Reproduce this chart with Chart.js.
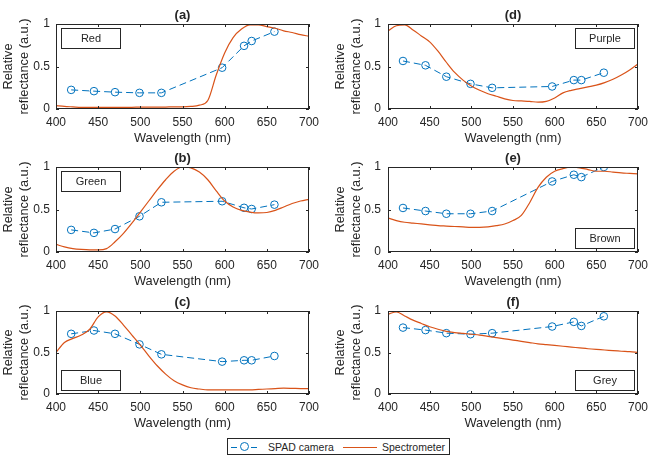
<!DOCTYPE html>
<html>
<head>
<meta charset="utf-8">
<script src="https://cdn.jsdelivr.net/npm/chart.js@4.4.0/dist/chart.umd.min.js"></script>
<style>
  body { margin: 0; background: #fff; }
  #page { position: relative; width: 654px; height: 458px; overflow: hidden; background: #fff;
          font-family: "Liberation Sans", Arial, sans-serif; color: #262626; }
  .panel { position: absolute; }
  #legend { position: absolute; left: 227px; top: 438px; width: 221px; height: 15px;
            border: 1px solid #262626; background: #fff; font-size: 10.5px; }
  #legend span { position: absolute; }
  .dash { height: 0; border-top: 1px solid #0072BD; top: 8px; }
  .ring { width: 7px; height: 7px; border: 1px solid #0072BD; border-radius: 50%; top: 3px; }
  .txt { top: 1px; line-height: 14px; }
</style>
</head>
<body>
<div id="page">
  <div class="panel" style="left:0;top:0"><canvas id="cA"></canvas></div>
  <div class="panel" style="left:327px;top:0"><canvas id="cD"></canvas></div>
  <div class="panel" style="left:0;top:143px"><canvas id="cB"></canvas></div>
  <div class="panel" style="left:327px;top:143px"><canvas id="cE"></canvas></div>
  <div class="panel" style="left:0;top:286px"><canvas id="cC"></canvas></div>
  <div class="panel" style="left:327px;top:286px"><canvas id="cF"></canvas></div>
  <div id="legend">
    <span class="dash" style="left:3px;width:6px"></span>
    <span class="ring" style="left:12px"></span>
    <span class="dash" style="left:23px;width:6px"></span>
    <span class="txt" style="left:40px">SPAD camera</span>
    <span class="dash" style="left:115px;width:34px;border-top-color:#D95319"></span>
    <span class="txt" style="left:154px">Spectrometer</span>
  </div>
</div>
<script>
// SPAD camera filter wavelengths (nm)
const spadWavelengths = [418, 445, 470, 499, 525, 597, 623, 632, 659];
const spadRed    = [0.225, 0.21, 0.198, 0.19, 0.19, 0.486, 0.743, 0.80, 0.91];
const spadGreen  = [0.26, 0.225, 0.27, 0.42, 0.585, 0.597, 0.52, 0.506, 0.557];
const spadBlue   = [0.725, 0.765, 0.725, 0.598, 0.478, 0.39, 0.406, 0.406, 0.458];
const spadPurple = [0.565, 0.514, 0.38, 0.296, 0.249, 0.265, 0.34, 0.34, 0.427];
const spadBrown  = [0.518, 0.482, 0.45, 0.45, 0.482, 0.83, 0.909, 0.881, 1.0];
const spadGrey   = [0.80, 0.77, 0.733, 0.72, 0.733, 0.813, 0.869, 0.82, 0.936];

// spectrometer readings, every 10 nm
const specWavelengths = [400, 410, 420, 430, 440, 450, 460, 470, 480, 490, 500,
  510, 520, 530, 540, 550, 560, 570, 580, 590, 600,
  610, 620, 630, 640, 650, 660, 670, 680, 690, 700];
const specRed = [0.04, 0.03, 0.025, 0.02, 0.02, 0.02, 0.02, 0.02, 0.02, 0.02, 0.022,
  0.022, 0.022, 0.023, 0.025, 0.025, 0.03, 0.045, 0.10, 0.40, 0.66,
  0.84, 0.94, 0.99, 0.99, 0.97, 0.95, 0.92, 0.90, 0.875, 0.855];
const specGreen = [0.09, 0.06, 0.04, 0.03, 0.025, 0.025, 0.04, 0.12, 0.22, 0.34, 0.47,
  0.60, 0.73, 0.85, 0.95, 1.0, 0.99, 0.94, 0.85, 0.72, 0.60,
  0.53, 0.49, 0.47, 0.46, 0.465, 0.49, 0.53, 0.57, 0.60, 0.62];
const specBlue = [0.50, 0.62, 0.67, 0.71, 0.78, 0.93, 0.99, 0.94, 0.83, 0.71, 0.59,
  0.46, 0.34, 0.24, 0.16, 0.11, 0.075, 0.06, 0.05, 0.05, 0.05,
  0.05, 0.05, 0.05, 0.055, 0.06, 0.065, 0.07, 0.068, 0.065, 0.065];
const specPurple = [0.92, 0.98, 0.99, 0.93, 0.86, 0.79, 0.68, 0.55, 0.43, 0.34, 0.27,
  0.22, 0.18, 0.15, 0.12, 0.10, 0.095, 0.09, 0.08, 0.09, 0.13,
  0.19, 0.22, 0.24, 0.26, 0.28, 0.31, 0.35, 0.40, 0.46, 0.53];
const specBrown = [0.40, 0.37, 0.35, 0.34, 0.33, 0.32, 0.31, 0.305, 0.30, 0.295, 0.29,
  0.29, 0.295, 0.31, 0.33, 0.37, 0.43, 0.58, 0.76, 0.88, 0.95,
  0.98, 1.0, 0.99, 0.97, 0.95, 0.95, 0.94, 0.93, 0.925, 0.92];
const specGrey = [0.96, 0.99, 0.94, 0.89, 0.85, 0.81, 0.78, 0.755, 0.74, 0.73, 0.72,
  0.71, 0.695, 0.68, 0.665, 0.65, 0.635, 0.62, 0.605, 0.595, 0.585,
  0.575, 0.565, 0.555, 0.545, 0.537, 0.53, 0.522, 0.515, 0.51, 0.50];

const xTickStep = 50;
const yTickStep = 0.5;

const INK = '#262626';
const BLUE = '#0072BD';
const ORANGE = '#D95319';
Chart.defaults.font.family = "'Liberation Sans', Arial, sans-serif";
Chart.defaults.color = INK;

// box, inward ticks, panel title and colour label
const framePlugin = {
  id: 'frame',
  afterDatasetsDraw(chart, args, opts) {
    const { ctx, chartArea: a, scales: { x, y } } = chart;
    ctx.save();
    ctx.strokeStyle = INK;
    ctx.lineWidth = 1;
    ctx.strokeRect(a.left + 0.5, a.top + 0.5, a.width - 1, a.height - 1);
    ctx.beginPath();
    x.ticks.forEach(t => {
      const px = Math.round(x.getPixelForValue(t.value)) + 0.5;
      ctx.moveTo(px, a.bottom); ctx.lineTo(px, a.bottom - 3);
      ctx.moveTo(px, a.top); ctx.lineTo(px, a.top + 3);
    });
    y.ticks.forEach(t => {
      const py = Math.round(y.getPixelForValue(t.value)) + 0.5;
      ctx.moveTo(a.left, py); ctx.lineTo(a.left + 3, py);
      ctx.moveTo(a.right, py); ctx.lineTo(a.right - 3, py);
    });
    ctx.stroke();

    // title
    ctx.fillStyle = INK;
    ctx.font = "bold 13px 'Liberation Sans', Arial, sans-serif";
    ctx.textAlign = 'center';
    ctx.textBaseline = 'middle';
    ctx.fillText(opts.title, (a.left + a.right) / 2, a.top - 9);

    // colour label box
    const w = 59, h = 20;
    const bx = opts.corner.includes('left') ? a.left + 5 : a.right - 4 - w;
    const by = opts.corner.includes('top') ? a.top + 4 : a.bottom - 4 - h;
    ctx.fillStyle = '#fff';
    ctx.fillRect(bx, by, w, h);
    ctx.strokeRect(Math.round(bx) + 0.5, Math.round(by) + 0.5, w, h);
    ctx.fillStyle = INK;
    ctx.font = "11px 'Liberation Sans', Arial, sans-serif";
    ctx.fillText(opts.label, bx + w / 2 + 0.5, by + h / 2 + 1);
    ctx.restore();
  }
};

const panels = [
  { id: 'cA', title: '(a)', label: 'Red',    corner: 'top-left',     spad: spadRed,    spec: specRed,    col: 0, row: 0 },
  { id: 'cD', title: '(d)', label: 'Purple', corner: 'top-right',    spad: spadPurple, spec: specPurple, col: 1, row: 0 },
  { id: 'cB', title: '(b)', label: 'Green',  corner: 'top-left',     spad: spadGreen,  spec: specGreen,  col: 0, row: 1 },
  { id: 'cE', title: '(e)', label: 'Brown',  corner: 'bottom-right', spad: spadBrown,  spec: specBrown,  col: 1, row: 1 },
  { id: 'cC', title: '(c)', label: 'Blue',   corner: 'bottom-left',  spad: spadBlue,   spec: specBlue,   col: 0, row: 2 },
  { id: 'cF', title: '(f)', label: 'Grey',   corner: 'bottom-right', spad: spadGrey,   spec: specGrey,   col: 1, row: 2 }
];

// layout per column / row
const cols = [
  { yWidth: 56, padRight: 18, titlePad: 0, tickPad: 6 },
  { yWidth: 61, padRight: 13, titlePad: 5, tickPad: 7 }
];
const rows = [
  { padTop: 24, height: 146 },
  { padTop: 24, height: 146 },
  { padTop: 25, height: 145 }
];

panels.forEach(p => {
  const c = cols[p.col], r = rows[p.row];
  const canvas = document.getElementById(p.id);
  canvas.width = 327;
  canvas.height = r.height;

  new Chart(canvas, {
    type: 'line',
    data: {
      datasets: [
        {
          label: 'Spectrometer',
          data: specWavelengths.map((w, i) => ({ x: w, y: p.spec[i] })),
          borderColor: ORANGE,
          borderWidth: 1.2,
          pointRadius: 0,
          cubicInterpolationMode: 'monotone',
          order: 0
        },
        {
          label: 'SPAD camera',
          data: spadWavelengths.map((w, i) => ({ x: w, y: p.spad[i] })),
          borderColor: BLUE,
          borderWidth: 1,
          borderDash: [7, 4],
          pointRadius: 3.8,
          pointBorderWidth: 1,
          pointBorderColor: BLUE,
          pointBackgroundColor: 'rgba(0,0,0,0)',
          order: 1
        }
      ]
    },
    options: {
      responsive: false,
      animation: false,
      layout: { padding: { top: r.padTop, right: c.padRight, left: 0, bottom: 0 } },
      plugins: {
        legend: { display: false },
        tooltip: { enabled: false },
        frame: { title: p.title, label: p.label, corner: p.corner }
      },
      scales: {
        x: {
          type: 'linear',
          min: 400,
          max: 700,
          grid: { display: false, drawTicks: false },
          border: { display: false },
          ticks: { stepSize: xTickStep, padding: 6, maxRotation: 0, autoSkip: false, font: { size: 12 } },
          title: { display: true, text: 'Wavelength (nm)', font: { size: 12.8 }, padding: { top: 0, bottom: 0 } },
          afterFit(s) { s.height = 37; }
        },
        y: {
          min: 0,
          max: 1,
          grid: { display: false, drawTicks: false },
          border: { display: false },
          ticks: {
            stepSize: yTickStep,
            padding: c.tickPad,
            font: { size: 12 },
            callback: v => String(v)
          },
          title: {
            display: true,
            text: ['Relative', 'reflectance (a.u.)'],
            font: { size: 12.8, lineHeight: 1.3 },
            padding: { top: c.titlePad, bottom: 0 }
          },
          afterFit(s) { s.width = c.yWidth; }
        }
      }
    },
    plugins: [framePlugin]
  });
});
</script>
</body>
</html>
